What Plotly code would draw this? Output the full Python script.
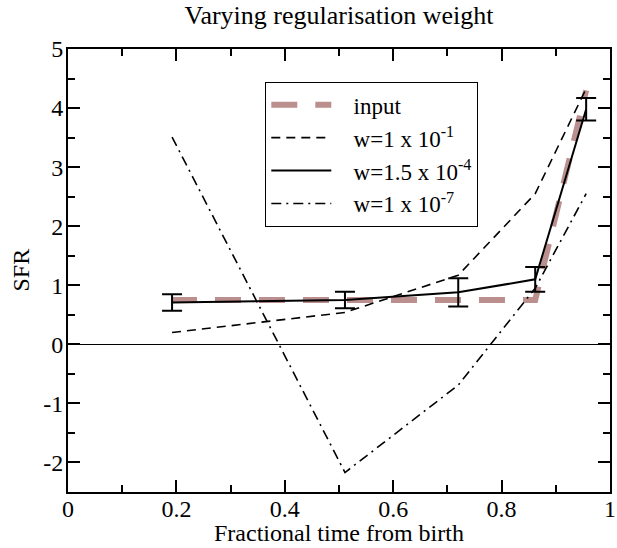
import plotly.graph_objects as go

# Fractional time sample points
t_input = [0.19, 0.51, 0.72, 0.862, 0.956]
sfr_input = [0.75, 0.75, 0.75, 0.75, 4.3]

t_fit = [0.192, 0.511, 0.72, 0.862, 0.956]
sfr_w1e1 = [0.20, 0.54, 1.17, 2.55, 4.33]
sfr_w15e4 = [0.71, 0.75, 0.88, 1.10, 3.98]
err_w15e4 = [0.14, 0.14, 0.24, 0.21, 0.19]
sfr_w1e7 = [3.51, -2.17, -0.69, 0.95, 2.55]

x_ticks = [0, 0.2, 0.4, 0.6, 0.8, 1]
x_tick_labels = ["0", "0.2", "0.4", "0.6", "0.8", "1"]
y_ticks = [-2, -1, 0, 1, 2, 3, 4, 5]
y_tick_labels = ["-2", "-1", "0", "1", "2", "3", "4", "5"]

font_family = "Liberation Serif, Times New Roman, serif"
pad = "\u00a0\u00a0\u00a0"  # gap between legend sample line and label

W, H = 617, 548
L, R, T, B = 68, 7, 49, 56
plot_w = W - L - R
plot_h = H - T - B

fig = go.Figure()

fig.add_trace(go.Scatter(
    x=t_input, y=sfr_input, mode="lines", name=pad + "input",
    line=dict(color="#bc8f8f", width=6, dash="26px,18px"),
))
fig.add_trace(go.Scatter(
    x=t_fit, y=sfr_w1e1, mode="lines", name=pad + "w=1 x 10<sup>-1</sup>",
    line=dict(color="black", width=1.6, dash="9px,6px"),
))
fig.add_trace(go.Scatter(
    x=t_fit, y=sfr_w15e4, mode="lines", name=pad + "w=1.5 x 10<sup>-4</sup>",
    line=dict(color="black", width=2),
    error_y=dict(type="data", array=err_w15e4, visible=True,
                 color="black", thickness=2, width=10),
))
fig.add_trace(go.Scatter(
    x=t_fit, y=sfr_w1e7, mode="lines", name=pad + "w=1 x 10<sup>-7</sup>",
    line=dict(color="black", width=1.6, dash="10px,5px,2px,5px"),
))

axis_common = dict(
    showline=True, linecolor="black", linewidth=2, mirror="allticks",
    ticks="inside", ticklen=12, tickwidth=1.5, tickcolor="black",
    showgrid=False, automargin=False, ticklabeloverflow="allow",
    tickfont=dict(family=font_family, size=24, color="black"),
)

fig.update_layout(
    width=W, height=H,
    margin=dict(l=L, r=R, t=T, b=B),
    paper_bgcolor="white", plot_bgcolor="white",
    font=dict(family=font_family, color="black"),
    title=dict(text="Varying regularisation weight",
               x=(L + W - R) / 2 / W, xanchor="center",
               y=1 - 15 / H, yanchor="middle",
               font=dict(family=font_family, size=26, color="black")),
    xaxis=dict(range=[0, 1], tickvals=x_ticks, ticktext=x_tick_labels,
               minor=dict(tickvals=[0.1, 0.3, 0.5, 0.7, 0.9], ticklen=7,
                          tickwidth=1.5, tickcolor="black", ticks="inside"),
               zeroline=False, ticklabelstandoff=-6,
               **axis_common),
    yaxis=dict(range=[-2.5, 5], tickvals=y_ticks, ticktext=y_tick_labels,
               minor=dict(tickvals=[-2.5, -1.5, -0.5, 0.5, 1.5, 2.5, 3.5, 4.5],
                          ticklen=7, tickwidth=1.5, tickcolor="black",
                          ticks="inside"),
               zeroline=True, zerolinecolor="black", zerolinewidth=1.2,
               ticklabelstandoff=-2,
               **axis_common),
    legend=dict(x=(265 - L) / plot_w, y=(H - B - 82) / plot_h,
                xanchor="left", yanchor="top",
                bgcolor="white", bordercolor="black", borderwidth=1.3,
                font=dict(family=font_family, size=23, color="black"),
                itemwidth=60, tracegroupgap=0),
    showlegend=True,
    annotations=[
        dict(text="Fractional time from birth", xref="paper", yref="paper",
             x=0.5, y=(H - B - 533) / plot_h, xanchor="center", yanchor="middle",
             showarrow=False, font=dict(family=font_family, size=24, color="black")),
        dict(text="SFR", xref="paper", yref="paper", textangle=-90,
             x=(20 - L) / plot_w, y=0.5, xanchor="center", yanchor="middle",
             showarrow=False, font=dict(family=font_family, size=24, color="black")),
    ],
)

fig.write_html("out.html")
